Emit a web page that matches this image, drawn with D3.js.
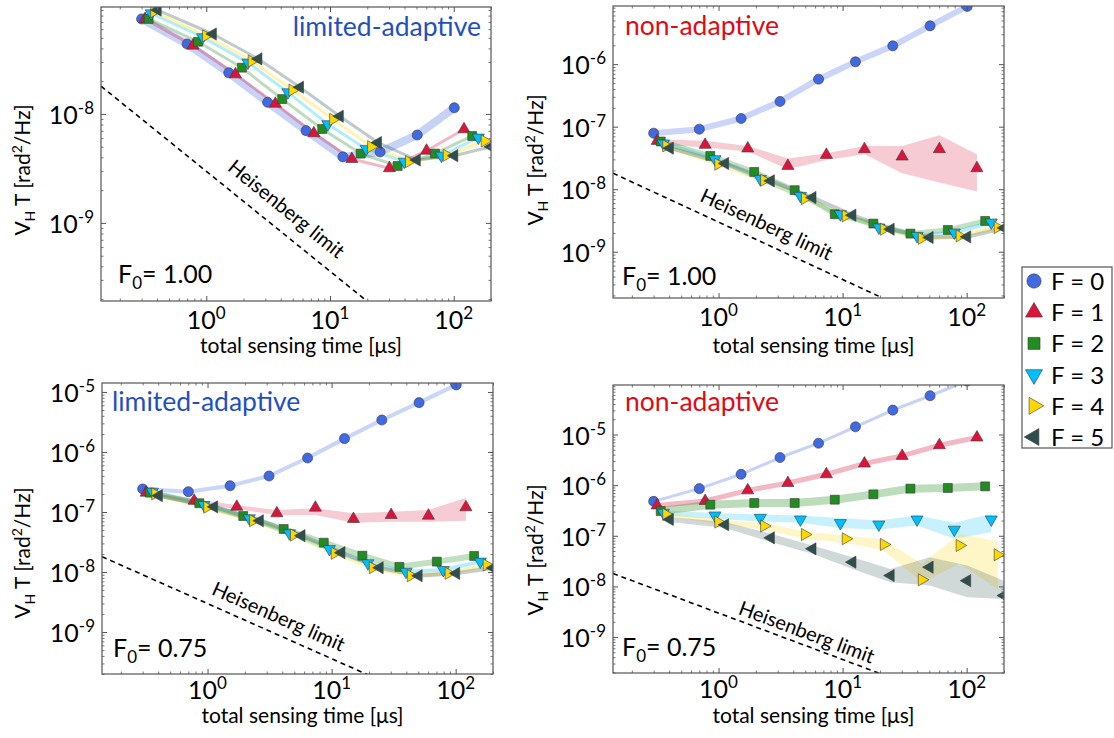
<!DOCTYPE html>
<html><head><meta charset="utf-8">
<script src="https://cdn.jsdelivr.net/npm/d3@7"></script>
<style>
body{margin:0;background:#fff}
svg{display:block}
text{font-family:Lato,'Open Sans',sans-serif;fill:#000}
</style>
</head><body>
<svg id="c" width="1114" height="738"></svg>
<script>
// ---------------- DATA ----------------
const seriesLabels = ["F = 0","F = 1","F = 2","F = 3","F = 4","F = 5"];
const seriesColors = ["#4169E1","#DC143C","#228B22","#00BFFF","#FFD700","#2F4F4F"];

// total sensing time [µs] for each F
const time_F0 = [0.30, 0.70, 1.52, 3.13, 6.4, 12.7, 25.4, 50.7, 101];
const time_F1 = [0.32, 0.78, 1.72, 3.62, 7.4, 15.0, 30.2, 60.3, 121];
const time_F2 = [0.342, 0.858, 1.94, 4.11, 8.65, 17.7, 35.2, 70.5, 141];
const time_F3 = [0.359, 0.935, 2.17, 4.57, 9.6, 19.6, 39.8, 79.5, 158];
const time_F4 = [0.379, 0.995, 2.33, 4.97, 10.6, 21.5, 43.5, 87.8, 178];
const time_F5 = [0.405, 1.13, 2.64, 5.72, 12.0, 24.4, 50.3, 101, 200];

// top-left: limited-adaptive, F0 = 1.00
const tl_F0 = [7.45e-8, 4.39e-8, 2.39e-8, 1.28e-8, 7.03e-9, 4.04e-9, 4.48e-9, 6.41e-9, 1.14e-8];
const tl_F1 = [7.45e-8, 4.24e-8, 2.31e-8, 1.24e-8, 6.65e-9, 3.86e-9, 3.18e-9, 4.60e-9, 7.24e-9];
const tl_F2 = [7.45e-8, 4.60e-8, 2.66e-8, 1.37e-8, 7.28e-9, 4.33e-9, 3.33e-9, 4.33e-9, 6.28e-9];
const tl_F3 = [8.39e-8, 5.06e-8, 2.96e-8, 1.58e-8, 8.05e-9, 4.78e-9, 3.65e-9, 4.14e-9, 6.07e-9];
const tl_F4 = [8.69e-8, 5.22e-8, 3.06e-8, 1.66e-8, 8.93e-9, 5.01e-9, 3.65e-9, 4.18e-9, 5.65e-9];
const tl_F5 = [8.99e-8, 5.42e-8, 3.20e-8, 1.76e-8, 9.53e-9, 5.46e-9, 3.78e-9, 4.14e-9, 5.00e-9];

// top-right: non-adaptive, F0 = 1.00
const tr_F0 = [7.87e-8, 9.12e-8, 1.35e-7, 2.53e-7, 5.75e-7, 1.09e-6, 1.96e-6, 4.10e-6, 8.38e-6];
const tr_F1 = [5.93e-8, 5.12e-8, 4.48e-8, 2.36e-8, 3.54e-8, 4.37e-8, 3.33e-8, 4.37e-8, 2.17e-8];
const tr_F1_lo = [5.25e-8, 4.65e-8, 4.01e-8, 2.09e-8, 2.94e-8, 3.63e-8, 1.80e-8, 1.28e-8, 9.18e-9];
const tr_F1_hi = [6.31e-8, 5.93e-8, 4.93e-8, 3.10e-8, 3.77e-8, 4.93e-8, 4.93e-8, 7.31e-8, 3.63e-8];
const tr_F2 = [5.79e-8, 3.41e-8, 1.89e-8, 9.64e-9, 3.98e-9, 2.82e-9, 1.95e-9, 2.23e-9, 3.11e-9];
const tr_F3 = [5.38e-8, 3.02e-8, 1.45e-8, 7.82e-9, 3.98e-9, 2.44e-9, 1.79e-9, 2.03e-9, 2.93e-9];
const tr_F4 = [4.93e-8, 2.51e-8, 1.39e-8, 7.10e-9, 3.74e-9, 2.29e-9, 1.64e-9, 1.79e-9, 2.44e-9];
const tr_F5 = [4.53e-8, 2.58e-8, 1.36e-8, 7.36e-9, 3.84e-9, 2.29e-9, 1.69e-9, 1.73e-9, 2.40e-9];

// bottom-left: limited-adaptive, F0 = 0.75
const bl_F0 = [2.42e-7, 2.18e-7, 2.74e-7, 3.98e-7, 7.94e-7, 1.67e-6, 3.41e-6, 6.64e-6, 1.31e-5];
const bl_F1 = [2.10e-7, 1.54e-7, 1.22e-7, 9.51e-8, 1.18e-7, 7.64e-8, 8.91e-8, 8.67e-8, 1.20e-7];
const bl_F1_lo = [2.00e-7, 1.43e-7, 1.11e-7, 8.91e-8, 8.91e-8, 6.64e-8, 6.89e-8, 6.89e-8, 7.16e-8];
const bl_F1_hi = [2.26e-7, 1.63e-7, 1.31e-7, 1.08e-7, 1.15e-7, 9.51e-8, 1.01e-7, 1.08e-7, 1.73e-7];
const bl_F2 = [2.10e-7, 1.40e-7, 8.57e-8, 5.21e-8, 3.08e-8, 1.87e-8, 1.22e-8, 1.49e-8, 1.85e-8];
const bl_F3 = [2.18e-7, 1.31e-7, 7.85e-8, 4.42e-8, 2.42e-8, 1.40e-8, 1.01e-8, 1.08e-8, 1.49e-8];
const bl_F4 = [2.00e-7, 1.20e-7, 7.16e-8, 4.14e-8, 2.05e-8, 1.18e-8, 8.67e-9, 9.51e-9, 1.31e-8];
const bl_F5 = [1.87e-7, 1.22e-7, 7.16e-8, 4.03e-8, 2.10e-8, 1.18e-8, 8.67e-9, 9.51e-9, 1.17e-8];

// bottom-right: non-adaptive, F0 = 0.75
const br_F0 = [4.78e-7, 8.53e-7, 1.64e-6, 3.51e-6, 6.73e-6, 1.42e-5, 3.03e-5, 5.83e-5, 1.14e-4];
const br_F1 = [3.98e-7, 4.86e-7, 7.89e-7, 1.10e-6, 1.64e-6, 2.67e-6, 3.78e-6, 6.14e-6, 8.73e-6];
const br_F2 = [3.08e-7, 4.11e-7, 4.44e-7, 4.44e-7, 5.16e-7, 6.58e-7, 8.53e-7, 8.79e-7, 9.46e-7];
const br_F3 = [2.85e-7, 2.52e-7, 2.27e-7, 2.10e-7, 1.78e-7, 1.67e-7, 2.10e-7, 1.32e-7, 2.10e-7];
const br_F3_lo = [2.52e-7, 2.17e-7, 1.92e-7, 1.81e-7, 1.42e-7, 1.33e-7, 1.60e-7, 8.73e-8, 1.18e-7];
const br_F3_hi = [3.17e-7, 2.81e-7, 2.64e-7, 2.52e-7, 2.24e-7, 2.01e-7, 2.52e-7, 1.81e-7, 2.73e-7];
const br_F4 = [2.64e-7, 1.87e-7, 1.56e-7, 1.06e-7, 8.73e-8, 6.73e-8, 1.35e-8, 6.43e-8, 4.21e-8];
const br_F4_lo = [2.45e-7, 1.71e-7, 1.33e-7, 8.73e-8, 7.26e-8, 5.12e-8, 1.21e-8, 2.79e-8, 8.91e-9];
const br_F4_hi = [2.94e-7, 2.10e-7, 1.78e-7, 1.22e-7, 1.01e-7, 8.45e-8, 2.79e-8, 1.10e-7, 7.71e-8];
const br_F5 = [2.10e-7, 1.65e-7, 9.12e-8, 5.53e-8, 3.01e-8, 1.64e-8, 2.40e-8, 1.30e-8, 6.58e-9];
const br_F5_lo = [1.87e-7, 1.42e-7, 7.50e-8, 4.41e-8, 2.22e-8, 1.21e-8, 1.04e-8, 6.11e-9, 5.65e-9];
const br_F5_hi = [2.34e-7, 1.87e-7, 1.10e-7, 6.43e-8, 3.78e-8, 2.22e-8, 3.78e-8, 2.58e-8, 1.30e-8];

// Heisenberg limit (two end points)
const hlTime = [0.141, 19.5];
const hlValue = [1.8e-8, 1.95e-10];

// axis ranges
const xRange = [0.141, 200];
const yRange_TL = [1.92e-10, 9.59e-8];
const yRange_TR = [1.82e-10, 8.51e-6];
const yRange_BL = [2.0e-10, 1.41e-5];
const yRange_BR = [1.95e-10, 9.5e-5];

const panelTitles = ["limited-adaptive","non-adaptive","limited-adaptive","non-adaptive"];
const fidelities = ["1.00","1.00","0.75","0.75"];
const xAxisTitle = "total sensing time [\u03BCs]";

// ---------------- DRAWING ----------------
const times = [time_F0,time_F1,time_F2,time_F3,time_F4,time_F5];
const svg = d3.select("#c");
const shapes = [d3.symbolCircle,d3.symbolTriangle,d3.symbolSquare,d3.symbolTriangle,d3.symbolTriangle,d3.symbolTriangle];
const rots = [0,0,0,180,90,-90];
const msize = [80,64,80,64,64,64];
const lsize = [160,125,144,125,125,125];

const panels = [
 {box:[101,7,491,301], yRange:yRange_TL, vals:[tl_F0,tl_F1,tl_F2,tl_F3,tl_F4,tl_F5], bands:[null,null,null,null,null,null],
  widths:[8,3,3,3,3,3], op:0.3, title:{x:481,y:36,anchor:"end",color:"#1f50c0"}, fid:{x:118,y:283},
  yTitle:{x:30,y:170}, tickDy:28, xTitleY:353, hl:{cx:287,d:22}},
 {box:[613,6,1004,298], yRange:yRange_TR, vals:[tr_F0,tr_F1,tr_F2,tr_F3,tr_F4,tr_F5], bands:[null,[tr_F1_lo,tr_F1_hi],null,null,null,null],
  widths:[6,0,5,4,4,4], op:0.28, title:{x:625,y:35,anchor:"start",color:"#e00a14"}, fid:{x:622,y:285},
  yTitle:{x:543,y:160}, tickDy:28, xTitleY:353, hl:{cx:767,d:19}},
 {box:[102,383,493,674], yRange:yRange_BL, vals:[bl_F0,bl_F1,bl_F2,bl_F3,bl_F4,bl_F5], bands:[null,[bl_F1_lo,bl_F1_hi],null,null,null,null],
  widths:[4,0,6,4,4,4], op:0.28, title:{x:112,y:411,anchor:"start",color:"#1f50c0"}, fid:{x:113,y:657},
  yTitle:{x:30,y:553}, tickDy:25, xTitleY:723, hl:{cx:279,d:18}},
 {box:[613,385,1004,673], yRange:yRange_BR, vals:[br_F0,br_F1,br_F2,br_F3,br_F4,br_F5], bands:[null,null,null,[br_F3_lo,br_F3_hi],[br_F4_lo,br_F4_hi],[br_F5_lo,br_F5_hi]],
  widths:[3,5,8,0,0,0], op:0.3, title:{x:625,y:411,anchor:"start",color:"#e00a14"}, fid:{x:622,y:656},
  yTitle:{x:543,y:550}, tickDy:25, xTitleY:723, hl:{cx:807,d:14}}
];

function supLabel(sel, exp, baseSize, supSize){
  sel.append("tspan").attr("font-size",baseSize).text("10");
  sel.append("tspan").attr("font-size",supSize).attr("dy",-10).text(exp);
}

panels.forEach((p,pi)=>{
  const [l,t,r,b] = p.box;
  const x = d3.scaleLog().domain(xRange).range([l,r]);
  const y = d3.scaleLog().domain(p.yRange).range([b,t]);
  const g = svg.append("g");
  const cid = "clip"+pi;
  svg.append("clipPath").attr("id",cid).append("rect").attr("x",l).attr("y",t).attr("width",r-l).attr("height",b-t);
  const plot = g.append("g").attr("clip-path",`url(#${cid})`);

  // Heisenberg limit
  const hl = d3.line().x(d=>x(d[0])).y(d=>y(d[1]));
  plot.append("path").datum(hlTime.map((v,i)=>[v,hlValue[i]])).attr("d",hl)
    .attr("fill","none").attr("stroke","#000").attr("stroke-width",1.6).attr("stroke-dasharray","5,4");

  // bands and lines
  const line = d3.line().x(d=>x(d[0])).y(d=>y(d[1]));
  const area = d3.area().x(d=>x(d[0])).y0(d=>y(d[1])).y1(d=>y(d[2]));
  p.vals.forEach((vals,si)=>{
    const tm = times[si];
    if(p.bands[si]){
      const [lo,hi] = p.bands[si];
      plot.append("path").datum(tm.map((v,i)=>[v,lo[i],hi[i]])).attr("d",area)
        .attr("fill",seriesColors[si]).attr("fill-opacity",0.22).attr("stroke","none");
    } else {
      plot.append("path").datum(tm.map((v,i)=>[v,vals[i]])).attr("d",line)
        .attr("fill","none").attr("stroke",seriesColors[si]).attr("stroke-opacity",p.op)
        .attr("stroke-width",p.widths[si]).attr("stroke-linejoin","round");
    }
  });
  // markers
  p.vals.forEach((vals,si)=>{
    const tm = times[si];
    const sym = d3.symbol().type(shapes[si]).size(msize[si]);
    plot.append("g").selectAll("path").data(tm.map((v,i)=>[v,vals[i]])).join("path")
      .attr("d",sym)
      .attr("transform",d=>`translate(${x(d[0])},${y(d[1])}) rotate(${rots[si]})`)
      .attr("fill",seriesColors[si]).attr("stroke","#3a3a3a").attr("stroke-width",0.6);
  });

  // Heisenberg label
  const x0=x(hlTime[0]), y0=y(hlValue[0]), x1=x(hlTime[1]), y1=y(hlValue[1]);
  const dx=x1-x0, dy=y1-y0, len=Math.hypot(dx,dy);
  const nx=dy/len, ny=-dx/len;
  const ang = Math.atan2(dy,dx)*180/Math.PI;
  const baseX = p.hl.cx - p.hl.d*nx;
  const baseY = y0 + (baseX-x0)*dy/dx;
  g.append("text").attr("transform",`translate(${baseX+p.hl.d*nx},${baseY+p.hl.d*ny}) rotate(${ang})`)
    .attr("text-anchor","middle").attr("dominant-baseline","central").attr("font-size",20).text("Heisenberg limit");

  // ticks (inside, all four sides)
  const xt = x.ticks(), yt = y.ticks();
  const isMajor = v => Math.abs(Math.log10(v)-Math.round(Math.log10(v)))<1e-6;
  const axisMakers = [
    [()=>d3.axisBottom(x), `translate(0,${b})`, xt],
    [()=>d3.axisTop(x), `translate(0,${t})`, xt],
    [()=>d3.axisLeft(y), `translate(${l},0)`, yt],
    [()=>d3.axisRight(y), `translate(${r},0)`, yt]
  ];
  axisMakers.forEach(([mkAxis,tr,vals])=>{
    [[vals.filter(isMajor),-5,"#555"],[vals.filter(v=>!isMajor(v)),-2.5,"#777"]].forEach(([tv,sz,col])=>{
      const ga = g.append("g").attr("transform",tr)
        .call(mkAxis().tickValues(tv).tickSizeInner(sz).tickSizeOuter(0).tickFormat(""));
      ga.select(".domain").remove();
      ga.selectAll("line").attr("stroke",col);
    });
  });
  g.append("rect").attr("x",l).attr("y",t).attr("width",r-l).attr("height",b-t)
    .attr("fill","none").attr("stroke","#555").attr("stroke-width",1.2);

  // tick labels
  xt.filter(isMajor).forEach(v=>{
    const tx = g.append("text").attr("x",x(v)).attr("y",b+p.tickDy).attr("text-anchor","middle");
    supLabel(tx, String(Math.round(Math.log10(v))), 25, 17);
  });
  yt.filter(isMajor).filter(v=>y(v)>t+3).forEach(v=>{
    const tx = g.append("text").attr("x",l-7).attr("y",y(v)+10).attr("text-anchor","end");
    supLabel(tx, String(Math.round(Math.log10(v))), 25, 17);
  });

  // axis titles
  g.append("text").attr("x",(l+r)/2+5).attr("y",p.xTitleY).attr("text-anchor","middle").attr("font-size",21).text(xAxisTitle);
  const yT = g.append("text").attr("transform",`translate(${p.yTitle.x},${p.yTitle.y}) rotate(-90)`).attr("text-anchor","middle").attr("font-size",21);
  yT.append("tspan").text("V");
  yT.append("tspan").attr("font-size",14).attr("dy",5).text("H");
  yT.append("tspan").attr("dy",-5).text(" T [rad");
  yT.append("tspan").attr("font-size",14).attr("dy",-8).text("2");
  yT.append("tspan").attr("dy",8).text("/Hz]");

  // panel title
  g.append("text").attr("x",p.title.x).attr("y",p.title.y).attr("text-anchor",p.title.anchor)
    .attr("font-size",26.5).style("fill",p.title.color).text(panelTitles[pi]);
  // fidelity
  const ft = g.append("text").attr("x",p.fid.x).attr("y",p.fid.y).attr("font-size",25);
  ft.append("tspan").text("F");
  ft.append("tspan").attr("font-size",17).attr("dy",6).text("0");
  ft.append("tspan").attr("dy",-6).text("= "+fidelities[pi]);
});

// legend
const lg = svg.append("g");
lg.append("rect").attr("x",1022).attr("y",267).attr("width",90).attr("height",181)
  .attr("fill","#fff").attr("stroke","#555").attr("stroke-width",1.2);
const ly = d3.scalePoint().domain(seriesLabels).range([281,437]);
seriesLabels.forEach((s,i)=>{
  lg.append("path").attr("d",d3.symbol().type(shapes[i]).size(lsize[i]))
    .attr("transform",`translate(1034,${ly(s)}) rotate(${rots[i]})`)
    .attr("fill",seriesColors[i]).attr("stroke","#3a3a3a").attr("stroke-width",0.6);
  lg.append("text").attr("x",1051).attr("y",ly(s)+9).attr("font-size",24).text(s);
});
</script>
</body></html>
